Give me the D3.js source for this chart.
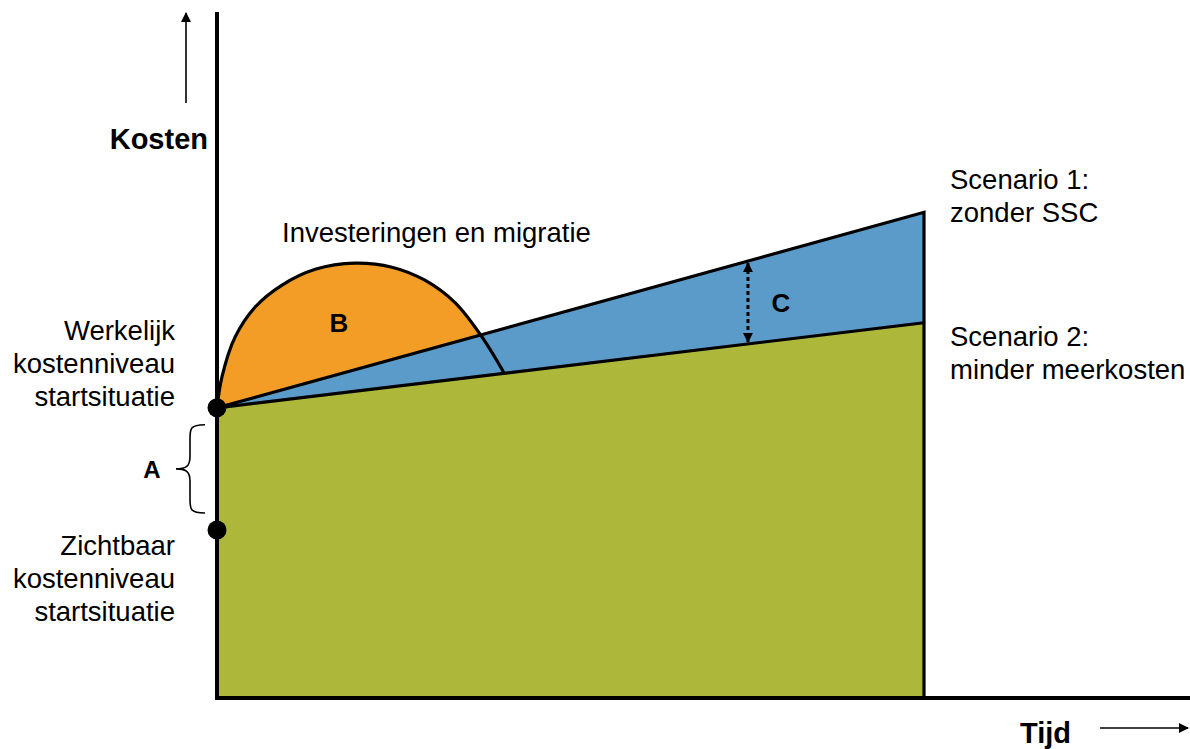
<!DOCTYPE html>
<html>
<head>
<meta charset="utf-8">
<script src="https://cdn.jsdelivr.net/npm/d3@7"></script>
<style>
  body { margin: 0; background: #fff; }
  svg { display: block; font-family: Arial, "Liberation Sans", sans-serif; }
</style>
</head>
<body>
<svg width="1190" height="749"></svg>
<script>
// time runs 0..100, costs 0..100 (arbitrary units)
const time = [0, 100];
const scenario1 = [42.3, 70.8];   // zonder SSC
const scenario2 = [42.3, 54.7];   // minder meerkosten
const realLevel = 42.3;           // werkelijk kostenniveau
const visibleLevel = 24.5;        // zichtbaar kostenniveau

// investment hump (B)
const humpTime = [0, 0.7, 2.55, 5.4, 9.2, 13.9, 19.5, 24.75, 29.4, 33.7, 37.5, 40.7];
const humpCost = [42.3, 46.8, 52.6, 57.0, 60.2, 62.5, 63.4, 62.8, 60.9, 57.6, 52.6, 47.2];

const cArrowTime = 75.1;

const leftTop = ["Werkelijk", "kostenniveau", "startsituatie"];
const leftBottom = ["Zichtbaar", "kostenniveau", "startsituatie"];
const scen1Label = ["Scenario 1:", "zonder SSC"];
const scen2Label = ["Scenario 2:", "minder meerkosten"];

const svg = d3.select("svg");

const x = d3.scaleLinear().domain([0, 100]).range([217, 924]);
const y = d3.scaleLinear().domain([0, 100]).range([698, 12]);

const green = "#adb73a", orange = "#f39d27", blue = "#5b9bca";

const defs = svg.append("defs");
defs.append("marker")
  .attr("id", "head")
  .attr("viewBox", "0 0 10 10")
  .attr("refX", 9).attr("refY", 5)
  .attr("markerWidth", 10).attr("markerHeight", 10)
  .attr("markerUnits", "userSpaceOnUse")
  .attr("orient", "auto-start-reverse")
  .append("path")
  .attr("d", "M0,0L10,5L0,10z")
  .attr("fill", "#000");

const line = d3.line().x(d => x(d[0])).y(d => y(d[1]));

// green base area (scenario 2)
svg.append("path")
  .attr("d", line([[time[0], 0], [time[0], scenario2[0]], [time[1], scenario2[1]], [time[1], 0]]) + "Z")
  .attr("fill", green);

// orange hump
const hump = humpTime.map((t, i) => [t, humpCost[i]]);
const humpLine = d3.line().x(d => x(d[0])).y(d => y(d[1])).curve(d3.curveCatmullRom.alpha(0.5));
svg.append("path")
  .attr("d", humpLine(hump) + "Z")
  .attr("fill", orange);

// blue wedge between scenarios
svg.append("path")
  .attr("d", line([[time[0], scenario1[0]], [time[1], scenario1[1]], [time[1], scenario2[1]]]) + "Z")
  .attr("fill", blue);

// outlines
const strokeW = 3.2;
svg.append("path")
  .attr("d", line([[time[0], scenario1[0]], [time[1], scenario1[1]], [time[1], 0]]))
  .attr("fill", "none").attr("stroke", "#000").attr("stroke-width", strokeW);
svg.append("path")
  .attr("d", line([[time[0], scenario2[0]], [time[1], scenario2[1]]]))
  .attr("fill", "none").attr("stroke", "#000").attr("stroke-width", strokeW);
svg.append("path")
  .attr("d", humpLine(hump))
  .attr("fill", "none").attr("stroke", "#000").attr("stroke-width", strokeW);

// axes
svg.append("line")
  .attr("x1", x(0)).attr("x2", x(0))
  .attr("y1", y(100)).attr("y2", y(0) + 2)
  .attr("stroke", "#000").attr("stroke-width", 4);
svg.append("line")
  .attr("x1", x(0) - 2).attr("x2", 1190)
  .attr("y1", y(0)).attr("y2", y(0))
  .attr("stroke", "#000").attr("stroke-width", 4);

// level dots
svg.selectAll("circle.level")
  .data([realLevel, visibleLevel])
  .join("circle")
  .attr("class", "level")
  .attr("cx", x(0)).attr("cy", d => y(d))
  .attr("r", 9.5).attr("fill", "#000");

// C arrow (dashed, double headed)
const c1 = scenario1[0] + (scenario1[1] - scenario1[0]) * cArrowTime / 100;
const c2 = scenario2[0] + (scenario2[1] - scenario2[0]) * cArrowTime / 100;
svg.append("line")
  .attr("x1", x(cArrowTime)).attr("x2", x(cArrowTime))
  .attr("y1", y(c1) + 2).attr("y2", y(c2) - 2)
  .attr("stroke", "#000").attr("stroke-width", 3)
  .attr("stroke-dasharray", "4,3")
  .attr("marker-start", "url(#head)")
  .attr("marker-end", "url(#head)");

// brace for A
const bTop = y(realLevel) + 17, bBot = y(visibleLevel) - 17, bMid = (bTop + bBot) / 2;
svg.append("path")
  .attr("d", `M205,${bTop} C190,${bTop} 190,${bTop + 4} 190,${bTop + 14} L190,${bMid - 12} C190,${bMid - 2} 185,${bMid} 176,${bMid} C185,${bMid} 190,${bMid + 2} 190,${bMid + 12} L190,${bBot - 14} C190,${bBot - 4} 190,${bBot} 205,${bBot}`)
  .attr("fill", "none").attr("stroke", "#000").attr("stroke-width", 1.6);

// axis arrows
svg.append("line")
  .attr("x1", 186).attr("x2", 186).attr("y1", 103).attr("y2", 13)
  .attr("stroke", "#000").attr("stroke-width", 1.6)
  .attr("marker-end", "url(#head)");
svg.append("line")
  .attr("x1", 1100).attr("x2", 1188).attr("y1", 728).attr("y2", 728)
  .attr("stroke", "#000").attr("stroke-width", 1.6)
  .attr("marker-end", "url(#head)");

// texts
const fs = 27.5;
svg.append("text").text("Kosten")
  .attr("x", 208).attr("y", 149).attr("text-anchor", "end")
  .attr("font-size", 29).attr("font-weight", "bold");
svg.append("text").text("Tijd")
  .attr("x", 1020).attr("y", 743)
  .attr("font-size", 29).attr("font-weight", "bold");
svg.append("text").text("Investeringen en migratie")
  .attr("x", 282).attr("y", 242).attr("font-size", fs);

svg.append("g").selectAll("text")
  .data(leftTop).join("text")
  .attr("x", 175).attr("y", (d, i) => 340 + i * 33)
  .attr("text-anchor", "end").attr("font-size", fs)
  .text(d => d);
svg.append("g").selectAll("text")
  .data(leftBottom).join("text")
  .attr("x", 175).attr("y", (d, i) => 555 + i * 33)
  .attr("text-anchor", "end").attr("font-size", fs)
  .text(d => d);
svg.append("g").selectAll("text")
  .data(scen1Label).join("text")
  .attr("x", 950).attr("y", (d, i) => 189 + i * 33)
  .attr("font-size", fs)
  .text(d => d);
svg.append("g").selectAll("text")
  .data(scen2Label).join("text")
  .attr("x", 950).attr("y", (d, i) => 346 + i * 33)
  .attr("font-size", fs)
  .text(d => d);

svg.append("text").text("A")
  .attr("x", 152).attr("y", 478).attr("text-anchor", "middle")
  .attr("font-size", 24).attr("font-weight", "bold");
svg.append("text").text("B")
  .attr("x", 339).attr("y", 332).attr("text-anchor", "middle")
  .attr("font-size", 26).attr("font-weight", "bold");
svg.append("text").text("C")
  .attr("x", 781).attr("y", 312).attr("text-anchor", "middle")
  .attr("font-size", 26).attr("font-weight", "bold");
</script>
</body>
</html>
